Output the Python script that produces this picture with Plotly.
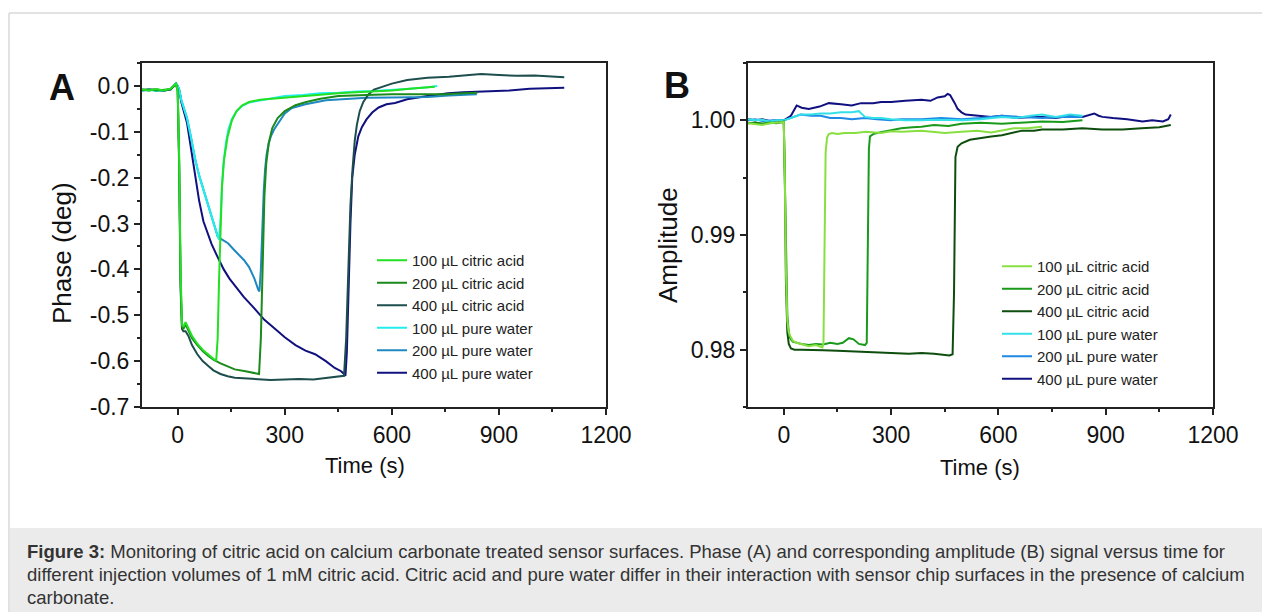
import plotly.graph_objects as go

# ---- Panel A: phase (deg) vs time (s) ----
t_a_ca100 = [-100, -80, -60, -40, -20, -5, 0, 4, 8, 12, 16, 22, 28, 40, 55, 70, 85, 100, 108, 112, 116, 120, 124,
             130, 140, 152, 165, 180, 200, 230, 260, 300, 350, 400, 450, 500, 550, 600, 650, 700, 720]
ph_a_ca100 = [-0.008, -0.010, -0.007, -0.010, -0.006, 0.005, -0.01, -0.15, -0.40, -0.52, -0.525, -0.515, -0.525,
              -0.545, -0.562, -0.575, -0.585, -0.595, -0.598, -0.55, -0.42, -0.30, -0.22, -0.16, -0.11, -0.075,
              -0.055, -0.043, -0.035, -0.030, -0.028, -0.025, -0.022, -0.018, -0.016, -0.014, -0.012, -0.010,
              -0.006, -0.003, -0.002]

t_a_ca200 = [-100, -80, -60, -40, -20, -5, 0, 4, 8, 12, 16, 22, 28, 40, 55, 70, 85, 100, 120, 140, 160, 190, 215,
             228, 233, 238, 243, 248, 255, 265, 280, 300, 330, 360, 400, 450, 500, 550, 600, 650, 700, 750, 800, 840]
ph_a_ca200 = [-0.009, -0.008, -0.010, -0.008, -0.007, 0.004, -0.01, -0.16, -0.42, -0.525, -0.53, -0.52, -0.53,
              -0.55, -0.565, -0.578, -0.588, -0.597, -0.605, -0.612, -0.618, -0.622, -0.626, -0.628, -0.55, -0.38,
              -0.24, -0.17, -0.125, -0.092, -0.07, -0.055, -0.042, -0.035, -0.028, -0.022, -0.020, -0.019, -0.018,
              -0.018, -0.017, -0.018, -0.016, -0.015]

t_a_ca400 = [-100, -80, -60, -40, -20, -5, 0, 4, 8, 12, 16, 22, 30, 40, 55, 70, 85, 100, 120, 140, 160, 190, 220,
             260, 300, 340, 380, 420, 450, 466, 472, 478, 484, 490, 496, 502, 510, 520, 535, 550, 575, 600, 643,
             700, 760, 800, 850, 900, 950, 1000, 1050, 1083]
ph_a_ca400 = [-0.008, -0.009, -0.008, -0.010, -0.008, 0.004, -0.01, -0.17, -0.44, -0.53, -0.535, -0.535, -0.545,
              -0.565, -0.585, -0.600, -0.610, -0.620, -0.628, -0.633, -0.636, -0.638, -0.640, -0.641, -0.640,
              -0.639, -0.640, -0.637, -0.634, -0.632, -0.55, -0.38, -0.26, -0.18, -0.12, -0.085, -0.055, -0.035,
              -0.018, -0.008, -0.002, 0.005, 0.013, 0.018, 0.020, 0.022, 0.026, 0.024, 0.022, 0.023, 0.020, 0.019]

t_a_w100 = [-100, -80, -60, -40, -20, -5, 0, 5, 10, 18, 26, 38, 49, 60, 72, 85, 95, 105, 112, 116, 120, 124, 128,
            135, 142, 152, 165, 180, 200, 230, 260, 300, 350, 400, 450, 500, 550, 600, 650, 700, 727]
ph_a_w100 = [-0.010, -0.008, -0.011, -0.009, -0.008, 0.006, 0.0, -0.01, -0.03, -0.05, -0.07, -0.115, -0.16,
             -0.195, -0.227, -0.26, -0.285, -0.31, -0.328, -0.335, -0.29, -0.22, -0.17, -0.125, -0.095, -0.072,
             -0.055, -0.044, -0.036, -0.032, -0.028, -0.022, -0.020, -0.016, -0.015, -0.012, -0.011, -0.009,
             -0.006, -0.003, 0.0]

t_a_w200 = [-100, -80, -60, -40, -20, -5, 0, 5, 10, 18, 26, 38, 49, 60, 72, 85, 95, 105, 112, 120, 130, 141, 155,
            170, 186, 200, 215, 226, 229, 233, 237, 241, 245, 249, 255, 261, 270, 278, 290, 300, 320, 358, 415,
            470, 529, 600, 643, 700, 760, 838]
ph_a_w200 = [-0.009, -0.010, -0.008, -0.011, -0.007, 0.005, 0.0, -0.01, -0.03, -0.05, -0.07, -0.115, -0.16,
             -0.195, -0.227, -0.26, -0.285, -0.31, -0.328, -0.333, -0.338, -0.343, -0.355, -0.368, -0.38, -0.395,
             -0.42, -0.445, -0.448, -0.40, -0.30, -0.23, -0.18, -0.15, -0.125, -0.11, -0.095, -0.085, -0.07,
             -0.06, -0.048, -0.04, -0.031, -0.028, -0.026, -0.025, -0.025, -0.024, -0.021, -0.018]

t_a_w400 = [-100, -80, -60, -40, -20, -5, 0, 5, 10, 18, 26, 38, 49, 60, 72, 85, 95, 110, 129, 145, 163, 185, 209,
            225, 243, 270, 300, 330, 358, 385, 415, 440, 458, 466, 470, 474, 478, 484, 489, 496, 506, 516, 529,
            545, 563, 585, 609, 643, 700, 758, 800, 872, 930, 986, 1040, 1083]
ph_a_w400 = [-0.010, -0.008, -0.009, -0.010, -0.007, 0.005, 0.0, -0.012, -0.035, -0.055, -0.08, -0.14, -0.20,
             -0.25, -0.295, -0.325, -0.345, -0.37, -0.40, -0.42, -0.438, -0.46, -0.48, -0.495, -0.51, -0.528,
             -0.548, -0.565, -0.577, -0.585, -0.60, -0.615, -0.622, -0.628, -0.632, -0.58, -0.45, -0.30, -0.20,
             -0.15, -0.11, -0.09, -0.073, -0.058, -0.047, -0.04, -0.037, -0.029, -0.022, -0.016, -0.014, -0.011,
             -0.010, -0.006, -0.005, -0.004]

# ---- Panel B: amplitude vs time (s) ----
t_b_ca100 = [-100, -80, -60, -40, -20, 0, 3, 6, 10, 14, 18, 25, 36, 50, 70, 90, 103, 108, 111, 114, 117, 121, 126,
             135, 150, 170, 200, 230, 272, 300, 330, 385, 420, 450, 497, 540, 580, 610, 630, 643, 680, 722]
amp_b_ca100 = [0.99975, 0.9997, 0.9996, 0.99975, 0.9998, 0.99985, 0.995, 0.987, 0.9825, 0.9815, 0.9812, 0.9808,
               0.9806, 0.9805, 0.9803, 0.9804, 0.9803, 0.9802, 0.9805, 0.988, 0.9972, 0.9985, 0.9988, 0.9989,
               0.9988, 0.9989, 0.9989, 0.9990, 0.9989, 0.99905, 0.9990, 0.9991, 0.9990, 0.9989, 0.9990, 0.9991,
               0.99895, 0.9991, 0.99925, 0.9993, 0.9993, 0.99945]

t_b_ca200 = [-100, -80, -60, -40, -20, 0, 3, 6, 10, 14, 18, 25, 36, 50, 70, 90, 110, 130, 150, 165, 182, 195, 210,
             227, 232, 235, 238, 241, 250, 261, 290, 328, 360, 385, 420, 460, 497, 550, 610, 660, 722, 780, 835]
amp_b_ca200 = [0.9998, 0.99975, 0.9997, 0.9998, 0.99975, 0.9999, 0.995, 0.987, 0.983, 0.9815, 0.9810, 0.9807,
               0.9806, 0.9805, 0.9804, 0.9805, 0.98045, 0.9806, 0.9805, 0.9806, 0.9810, 0.9809, 0.9805, 0.9804,
               0.9806, 0.990, 0.9975, 0.9986, 0.9988, 0.9989, 0.9991, 0.9993, 0.9994, 0.99945, 0.9996, 0.9995,
               0.9997, 0.9998, 0.9997, 0.9998, 0.9999, 0.99985, 1.0]

t_b_ca400 = [-100, -80, -60, -40, -20, 0, 3, 6, 10, 14, 20, 30, 50, 80, 110, 150, 200, 250, 300, 350, 385, 420,
             463, 472, 476, 480, 486, 497, 520, 553, 580, 610, 640, 666, 700, 722, 780, 835, 890, 947, 1000, 1050,
             1082]
amp_b_ca400 = [0.99975, 0.9998, 0.9997, 0.99975, 0.9998, 0.99985, 0.995, 0.986, 0.9815, 0.9805, 0.9801, 0.9800,
               0.9800, 0.97995, 0.97995, 0.9799, 0.97985, 0.9798, 0.9797, 0.97965, 0.9797, 0.97965, 0.9795, 0.9796,
               0.985, 0.9968, 0.9977, 0.9980, 0.9983, 0.9985, 0.9986, 0.9987, 0.9989, 0.9991, 0.9991, 0.9992,
               0.9992, 0.9993, 0.9992, 0.9992, 0.9993, 0.9994, 0.9996]

t_b_w100 = [-100, -80, -60, -40, -20, 0, 20, 47, 75, 103, 130, 160, 190, 210, 220, 227, 250, 272, 300, 340, 385,
            430, 497, 550, 610, 650, 690, 722, 760, 800, 835]
amp_b_w100 = [1.0001, 1.0, 1.00005, 0.9999, 1.0, 1.0, 1.0002, 1.0005, 1.0005, 1.0006, 1.0006, 1.0007, 1.0007,
              1.0008, 1.0005, 1.0003, 1.0002, 1.0002, 1.0001, 1.0, 1.0, 1.00005, 1.0, 1.0001, 1.0003, 1.0002,
              1.0004, 1.0005, 1.0003, 1.0005, 1.0004]

t_b_w200 = [-100, -80, -60, -40, -20, 0, 20, 47, 75, 103, 130, 160, 190, 227, 260, 300, 328, 385, 440, 497, 550,
            610, 660, 722, 780, 835]
amp_b_w200 = [1.0, 1.0001, 0.99995, 1.0, 1.0, 1.0, 1.0002, 1.0005, 1.0004, 1.0004, 1.0002, 1.0002, 1.0001, 1.0002,
              1.0001, 1.0, 1.0001, 1.0001, 1.0002, 1.0001, 1.0002, 1.0004, 1.0003, 1.0002, 1.0003, 1.0003]

t_b_w400 = [-100, -80, -60, -40, -20, 0, 20, 36, 50, 70, 100, 126, 160, 190, 216, 250, 272, 300, 340, 385, 410,
            430, 450, 458, 465, 469, 478, 486, 497, 508, 540, 580, 610, 650, 690, 722, 760, 800, 835, 868, 880,
            891, 920, 960, 1003, 1030, 1060, 1075, 1082]
amp_b_w400 = [1.0001, 1.0, 1.0001, 0.99995, 1.0, 1.0, 1.0004, 1.0013, 1.0011, 1.0010, 1.0012, 1.0015, 1.0014,
              1.0013, 1.0015, 1.0015, 1.0016, 1.0016, 1.0017, 1.0018, 1.0017, 1.0020, 1.0021, 1.0023, 1.0022,
              1.0020, 1.0015, 1.0010, 1.0007, 1.0005, 1.0004, 1.0003, 1.0004, 1.0002, 1.0003, 1.0003, 1.0002,
              1.0004, 1.0003, 1.0006, 1.0004, 1.0003, 1.0002, 1.0001, 0.9999, 1.0, 0.9999, 1.0001, 1.0005]

# tick labels (plain hyphen minus, like the original)
x_ticks = [0, 300, 600, 900, 1200]
x_tick_labels = ['0', '300', '600', '900', '1200']
ya_ticks = [-0.7, -0.6, -0.5, -0.4, -0.3, -0.2, -0.1, 0.0]
ya_tick_labels = ['-0.7', '-0.6', '-0.5', '-0.4', '-0.3', '-0.2', '-0.1', '0.0']
yb_ticks = [0.98, 0.99, 1.00]
yb_tick_labels = ['0.98', '0.99', '1.00']

names = ['100 µL citric acid', '200 µL citric acid', '400 µL citric acid',
         '100 µL pure water', '200 µL pure water', '400 µL pure water']
colors_a = ['#22e022', '#1a8a1a', '#1e4d4d', '#22eeee', '#1f88c0', '#10107f']
colors_b = ['#88e040', '#1a9a1a', '#0d4d0d', '#33e0e8', '#1e88e5', '#101080']

series_a = [(t_a_ca100, ph_a_ca100), (t_a_ca200, ph_a_ca200), (t_a_ca400, ph_a_ca400),
            (t_a_w100, ph_a_w100), (t_a_w200, ph_a_w200), (t_a_w400, ph_a_w400)]
series_b = [(t_b_ca100, amp_b_ca100), (t_b_ca200, amp_b_ca200), (t_b_ca400, amp_b_ca400),
            (t_b_w100, amp_b_w100), (t_b_w200, amp_b_w200), (t_b_w400, amp_b_w400)]

FONT = 'Liberation Sans, Arial, sans-serif'

fig = go.Figure()

# draw water curves first so the acid curves sit on top
order = [5, 4, 3, 2, 1, 0]
for i in order:
    t, y = series_a[i]
    fig.add_trace(go.Scatter(x=t, y=y, mode='lines', name=names[i], legend='legend',
                             line=dict(color=colors_a[i], width=2), legendrank=i + 1,
                             xaxis='x', yaxis='y'))
for i in order:
    t, y = series_b[i]
    fig.add_trace(go.Scatter(x=t, y=y, mode='lines', name=names[i], legend='legend2',
                             line=dict(color=colors_b[i], width=2), legendrank=i + 1,
                             xaxis='x2', yaxis='y2'))

# the page body has an 8px margin, so the figure is drawn 8px in from the window corner
OFF = 8
W, H = 1270 - OFF, 612 - OFF


def px_x(v):
    return (v - OFF) / W


def px_y(v):
    return 1 - (v - OFF) / H


axis_common = dict(
    showline=True, mirror=True, linecolor='#222', linewidth=2,
    ticks='outside', ticklen=6, tickwidth=1.5, tickcolor='#222',
    showgrid=False, zeroline=False, automargin=False,
    tickfont=dict(family=FONT, size=23, color='#111'),
)

fig.update_layout(
    width=W, height=H,
    margin=dict(l=0, r=0, t=0, b=0),
    paper_bgcolor='white', plot_bgcolor='white',
    font=dict(family=FONT),
    xaxis=dict(domain=[px_x(142), px_x(606)], range=[-100, 1200], tickvals=x_ticks, ticktext=x_tick_labels,
               minor=dict(ticks='outside', ticklen=3, dtick=150, tick0=0, tickcolor='#222'),
               anchor='y', **axis_common),
    yaxis=dict(domain=[px_y(407), px_y(63)], range=[-0.7, 0.05], tickvals=ya_ticks, ticktext=ya_tick_labels,
               minor=dict(ticks='outside', ticklen=3, dtick=0.05, tick0=0, tickcolor='#222'),
               anchor='x', **axis_common),
    xaxis2=dict(domain=[px_x(748), px_x(1213)], range=[-100, 1200], tickvals=x_ticks, ticktext=x_tick_labels,
                minor=dict(ticks='outside', ticklen=3, dtick=150, tick0=0, tickcolor='#222'),
                anchor='y2', **axis_common),
    yaxis2=dict(domain=[px_y(407), px_y(63)], range=[0.975, 1.005], tickvals=yb_ticks, ticktext=yb_tick_labels,
                minor=dict(ticks='outside', ticklen=3, dtick=0.005, tick0=0.975, tickcolor='#222'),
                anchor='x2', **axis_common),
    legend=dict(x=px_x(372), y=px_y(244), xanchor='left', yanchor='top', bgcolor='rgba(0,0,0,0)',
                font=dict(family=FONT, size=15, color='#222'), tracegroupgap=0,
                itemwidth=30, traceorder='normal'),
    legend2=dict(x=px_x(997), y=px_y(250), xanchor='left', yanchor='top', bgcolor='rgba(0,0,0,0)',
                 font=dict(family=FONT, size=15, color='#222'), tracegroupgap=0,
                 itemwidth=30, traceorder='normal'),
    showlegend=True,
)

# card border and caption box
fig.add_shape(type='line', xref='paper', yref='paper', x0=px_x(9), x1=1, y0=px_y(13), y1=px_y(13),
              line=dict(color='#e2e2e2', width=2))
fig.add_shape(type='line', xref='paper', yref='paper', x0=px_x(9), x1=px_x(9), y0=0, y1=px_y(13),
              line=dict(color='#e2e2e2', width=2))
fig.add_shape(type='rect', xref='paper', yref='paper', x0=px_x(9), x1=1, y0=0, y1=px_y(528),
              fillcolor='#ebebeb', line=dict(width=0), layer='below')

ann = [
    dict(text='<b>A</b>', x=px_x(62), y=px_y(87), font=dict(size=36, color='#111')),
    dict(text='<b>B</b>', x=px_x(677), y=px_y(85), font=dict(size=36, color='#111')),
    dict(text='Phase (deg)', x=px_x(62), y=px_y(253), textangle=-90, font=dict(size=26, color='#111')),
    dict(text='Time (s)', x=px_x(365), y=px_y(465), font=dict(size=22, color='#111')),
    dict(text='Amplitude', x=px_x(668), y=px_y(245), textangle=-90, font=dict(size=26, color='#111')),
    dict(text='Time (s)', x=px_x(980), y=px_y(467), font=dict(size=22, color='#111')),
]
for a in ann:
    fig.add_annotation(xref='paper', yref='paper', showarrow=False, xanchor='center', yanchor='middle', **a)

caption = [
    '<b>Figure 3:</b> Monitoring of citric acid on calcium carbonate treated sensor surfaces. Phase (A) and '
    'corresponding amplitude (B) signal versus time for',
    'different injection volumes of 1 mM citric acid. Citric acid and pure water differ in their interaction '
    'with sensor chip surfaces in the presence of calcium',
    'carbonate.',
]
for k, line in enumerate(caption):
    fig.add_annotation(xref='paper', yref='paper', showarrow=False, xanchor='left', yanchor='middle',
                       x=px_x(25), y=px_y(551 + 23 * k), text=line, align='left',
                       font=dict(family=FONT, size=18.5, color='#333'))

fig.write_html('out.html')
